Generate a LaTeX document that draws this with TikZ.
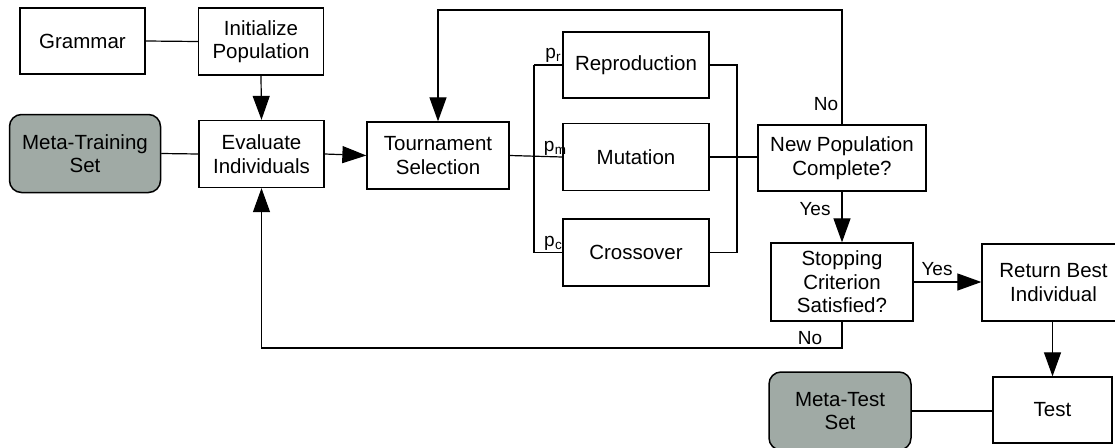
\documentclass[tikz,border=0pt]{standalone}
\usepackage{fontspec}
\setmainfont{Liberation Sans}
\usetikzlibrary{arrows.meta}
\definecolor{shade}{RGB}{160,170,165}
\tikzset{
  box/.style={draw=black, line width=1.3pt, fill=white, align=center, inner sep=0pt,
    font=\fontsize{20.5}{23.5}\selectfont},
  dbox/.style={box, fill=shade, rounded corners=12pt, line width=1.5pt},
  conn/.style={draw=black, line width=1.2pt},
  arr/.style={conn, -{Triangle[length=24pt, width=17pt]}},
  lbl/.style={font=\fontsize{19}{21}\selectfont, inner sep=0pt},
}
\newcommand{\psub}[1]{p\kern0.3pt\raisebox{-3.5pt}{\fontsize{13.5}{13.5}\selectfont #1}}
\begin{document}
\begin{tikzpicture}[x=1pt, y=-1pt]
\useasboundingbox (0,0) rectangle (1115,447);
% nodes
\node[box, minimum width=125pt, minimum height=66pt] (gram) at (82.5,41) {Grammar};
\node[box, minimum width=125pt, minimum height=67pt] (init) at (261,41.5) {Initialize\\Population};
\node[dbox, minimum width=151pt, minimum height=78pt] (mts) at (85,153.5) {Meta-Training\\Set};
\node[box, minimum width=125pt, minimum height=67pt] (eval) at (261.5,154) {Evaluate\\Individuals};
\node[box, minimum width=142pt, minimum height=67pt] (tour) at (438,155.5) {Tournament\\Selection};
\node[box, minimum width=146pt, minimum height=66pt] (repr) at (636,65) {Reproduction};
\node[box, minimum width=146pt, minimum height=67pt] (mut) at (636,157) {Mutation};
\node[box, minimum width=146pt, minimum height=67pt] (cross) at (636,252.5) {Crossover};
\node[box, minimum width=168pt, minimum height=66pt] (newpop) at (842,158) {New Population\\Complete?};
\node[box, minimum width=142pt, minimum height=78pt] (stop) at (842,282) {Stopping\\Criterion\\Satisfied?};
\node[box, minimum width=143pt, minimum height=77pt] (ret) at (1053.5,282.5) {Return Best\\Individual};
\node[box, minimum width=119pt, minimum height=66pt] (test) at (1052.5,410) {Test};
\node[dbox, minimum width=142pt, minimum height=78pt] (mtest) at (840,411) {Meta-Test\\Set};
% coordinates
\coordinate (bl1) at (534,65);
\coordinate (bl3) at (534,252.5);
\coordinate (br1) at (737,65);
\coordinate (br3) at (737,252.5);
\coordinate (top1) at (842,10);
\coordinate (top2) at (438,10);
\coordinate (bot1) at (842,348);
\coordinate (bot2) at (261.5,348);
% connectors
\draw[conn] (gram.east) -- (init.west);
\draw[arr] (init.south) -- (eval.north);
\draw[conn] (mts.east) -- (eval.west);
\draw[arr] (eval.east) -- (tour.west);
\draw[conn] (tour.east) -- (mut.west);
\draw[conn] (bl1) -- (bl3);
\draw[conn] (bl1) -- (repr.west);
\draw[conn] (bl3) -- (cross.west);
\draw[conn] (repr.east) -- (br1) -- (br3) -- (cross.east);
\draw[conn] (mut.east) -- (mut.east -| newpop.west);
\draw[arr] (newpop.north) -- (top1) -- (top2) -- (tour.north);
\draw[arr] (newpop.south) -- (stop.north);
\draw[arr] (stop.east) -- (stop.east -| ret.west);
\draw[arr] (stop.south) -- (bot1) -- (bot2) -- (eval.south);
\draw[arr] (ret.south -| test.north) -- (test.north);
\draw[conn] (mtest.east) -- (mtest.east -| test.west);
% labels
\node[lbl] (lno1) at (826,104) {No};
\node[lbl] (lyes1) at (815,209) {Yes};
\node[lbl] (lyes2) at (937,269) {Yes};
\node[lbl] (lno2) at (810,338) {No};
\node[lbl] (lpr) at (553,55) {\psub{r}};
\node[lbl] (lpm) at (555,148) {\psub{m}};
\node[lbl] (lpc) at (553,243) {\psub{c}};
\end{tikzpicture}
\end{document}
